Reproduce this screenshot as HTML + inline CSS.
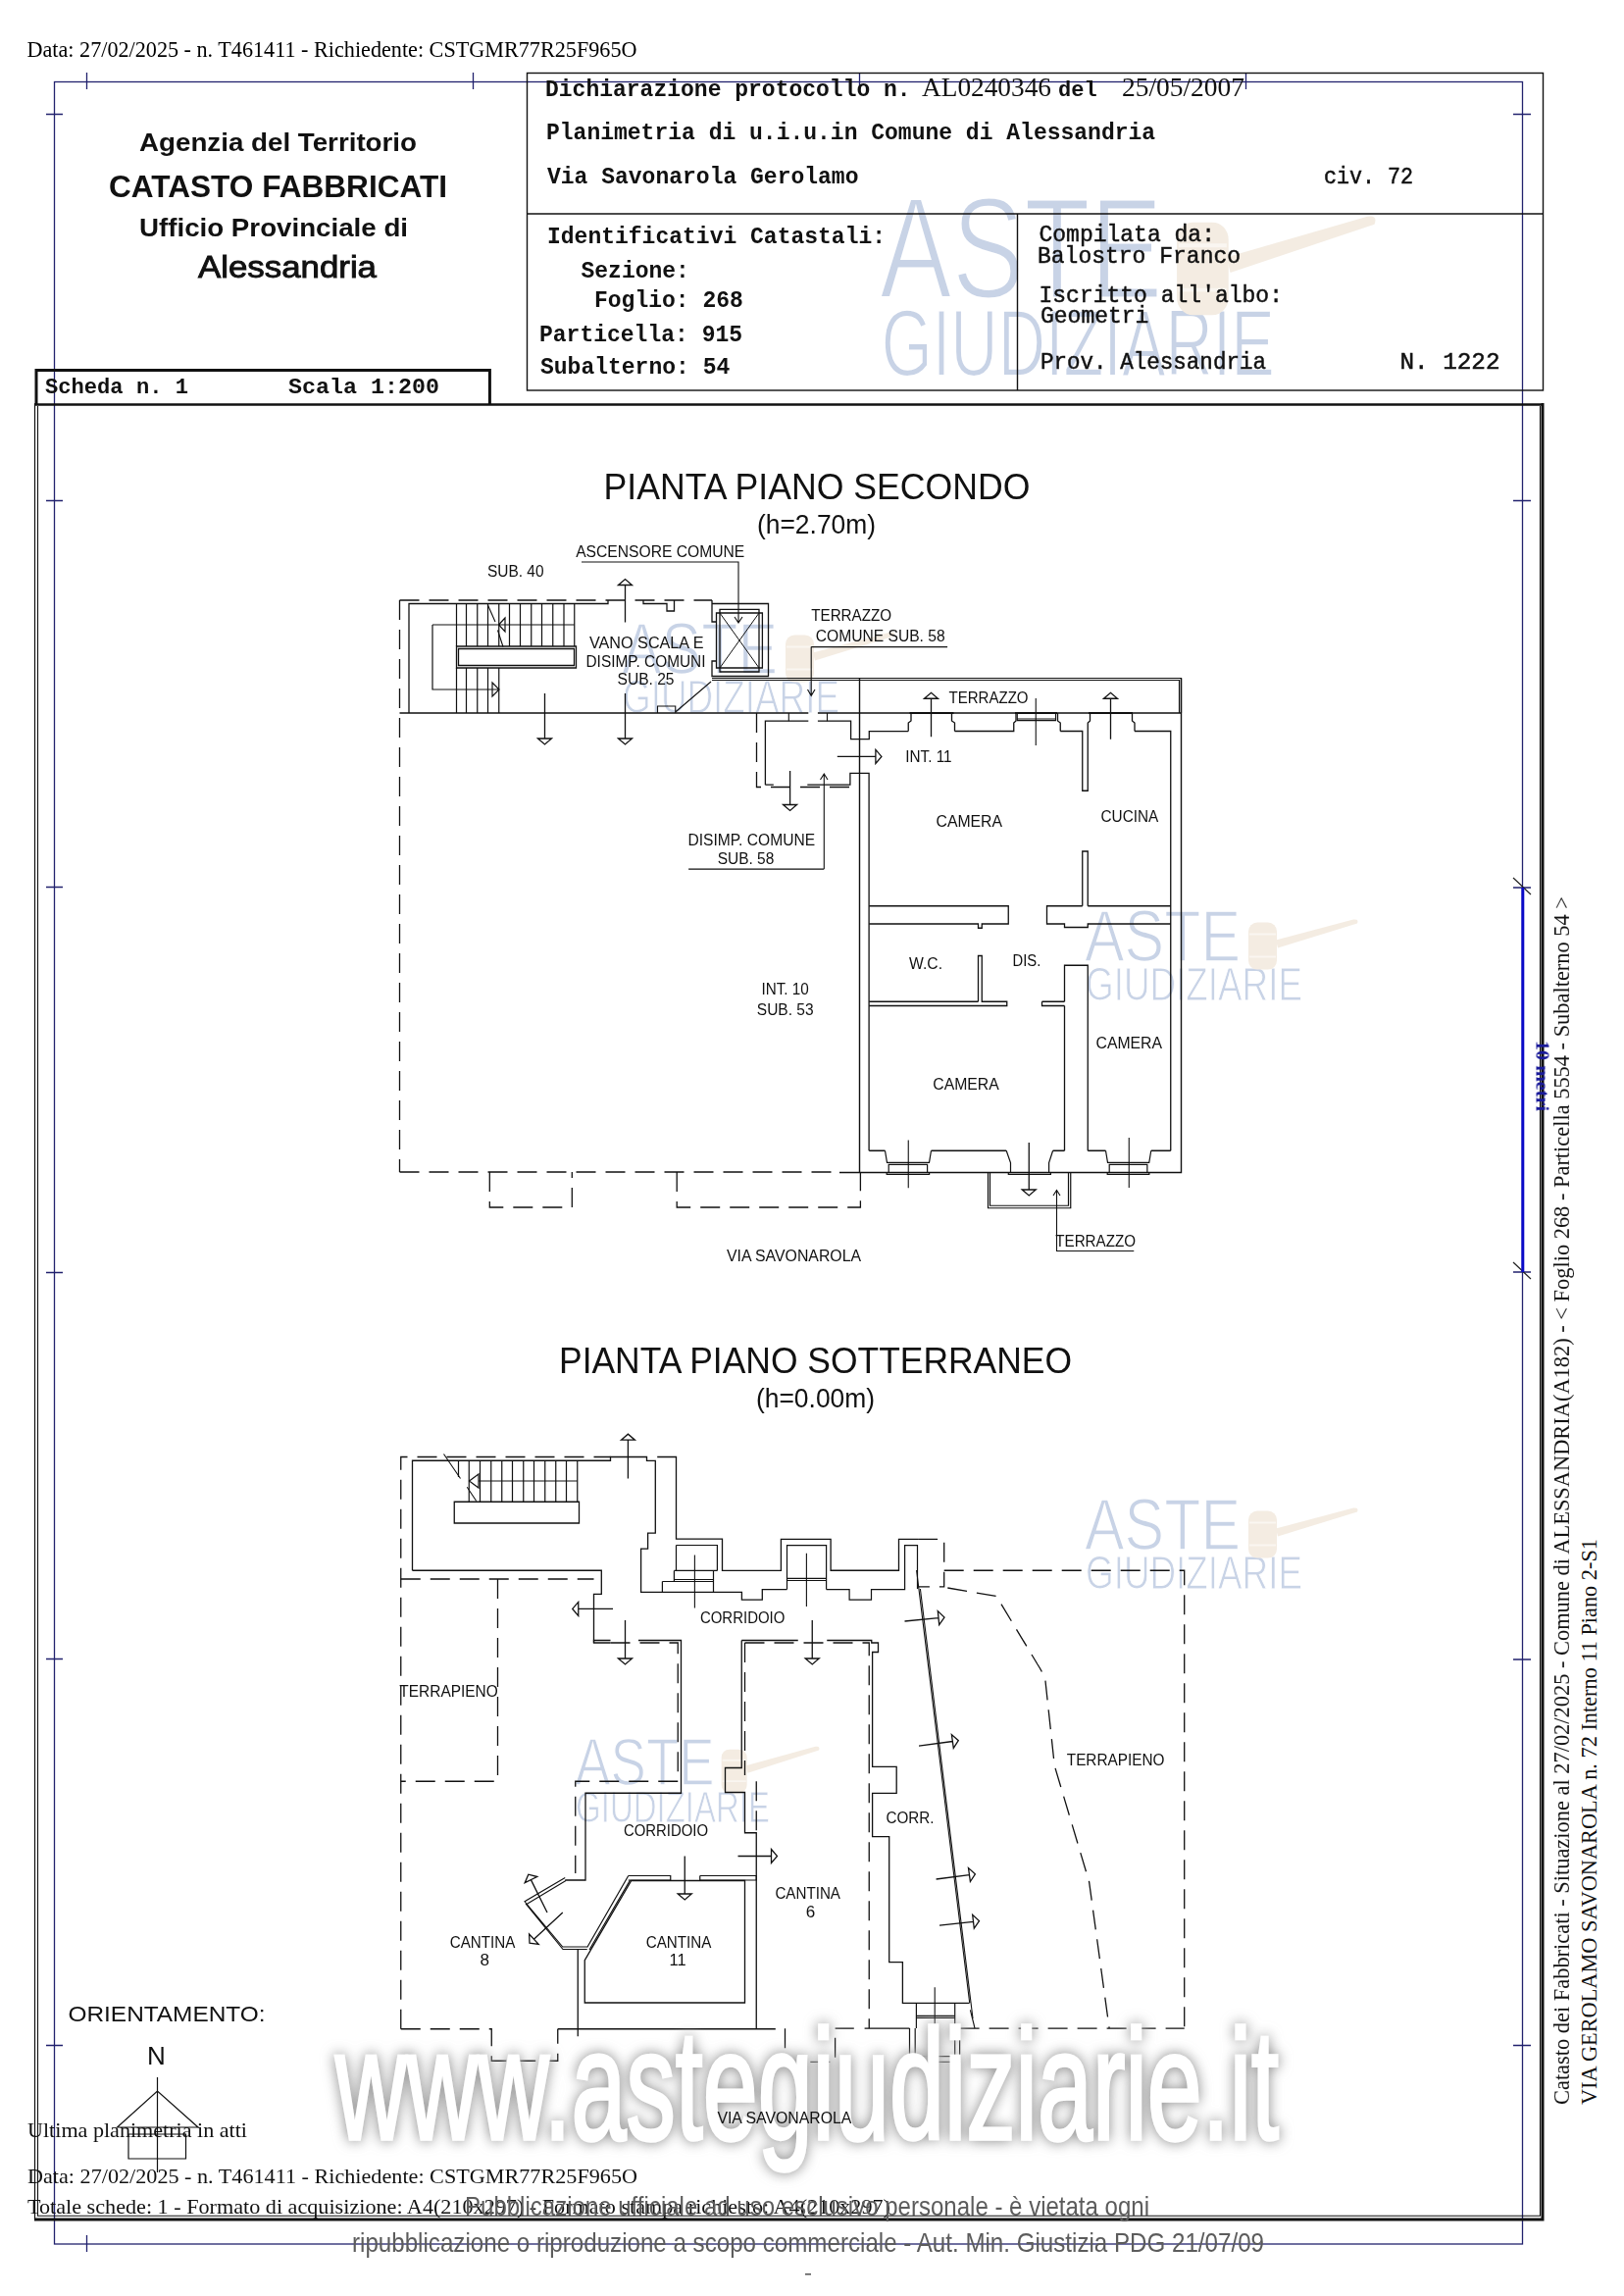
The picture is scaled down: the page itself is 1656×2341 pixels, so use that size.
<!DOCTYPE html>
<html><head><meta charset="utf-8">
<style>
html,body{margin:0;padding:0;background:#fff;}
body{width:1656px;height:2341px;overflow:hidden;position:relative;}
svg{position:absolute;left:0;top:0;}
.sr{font-family:"Liberation Serif",serif;}
.ss{font-family:"Liberation Sans",sans-serif;}
.mo{font-family:"Liberation Mono",monospace;}
</style></head><body>
<svg width="1656" height="2341" viewBox="0 0 1656 2341">
<defs>
<filter id="wm" x="-5%" y="-20%" width="110%" height="140%">
<feGaussianBlur in="SourceAlpha" stdDeviation="7" result="b"/>
<feFlood flood-color="#acacac" result="c"/>
<feComposite in="c" in2="b" operator="in" result="s"/>
<feComponentTransfer in="s" result="s2"><feFuncA type="linear" slope="1.5"/></feComponentTransfer>
<feMerge><feMergeNode in="s2"/><feMergeNode in="SourceGraphic"/></feMerge>
</filter>
<filter id="lb" x="-2%" y="-2%" width="104%" height="104%"><feGaussianBlur stdDeviation="0.7"/></filter>
</defs>
<!--LOGOS-->
<symbol id="logo" overflow="visible">
<g fill="#b6c4de" stroke="#fff" font-family="Liberation Sans,sans-serif">
<text x="-2" y="50.5" font-size="74" stroke-width="1.6" textLength="159" lengthAdjust="spacingAndGlyphs">ASTE</text>
<text x="-1" y="90.5" font-size="48.5" stroke-width="1.0" textLength="221" lengthAdjust="spacingAndGlyphs">GIUDIZIARIE</text>
</g>
<g fill="#f0e6d9">
<rect x="165" y="11" width="29" height="48" rx="9"/>
<path d="M193 29L272 8Q278 7 276 12L195 37Z"/>
</g>
<g fill="none" stroke="#f8f3ec" stroke-width="2"><path d="M166 23H193M166 46H193"/></g>
</symbol>
<g opacity="0.75" filter="url(#lb)"><use href="#logo" transform="translate(1108 929.6) scale(1.0 1.0)"/>
<use href="#logo" transform="translate(1108 1529.6) scale(1.0 1.0)"/>
<use href="#logo" transform="translate(636 636.6) scale(1.0 1.0)"/>
<use href="#logo" transform="translate(588 1773.4) scale(0.895 0.93)"/>
<use href="#logo" transform="translate(900.6 205) scale(1.815 1.97)"/></g>
<!--/LOGOS-->

<!-- ===== top header text ===== -->
<text class="sr" x="27.5" y="58" font-size="23" textLength="622" lengthAdjust="spacingAndGlyphs">Data: 27/02/2025 - n. T461411 - Richiedente: CSTGMR77R25F965O</text>

<!-- ===== blue frame ===== -->
<g stroke="#22226e" stroke-width="1.3" fill="none">
<rect x="55.5" y="83.5" width="1497" height="2204.5"/>
<path d="M88.5 74V91M482.5 74V91M876.5 74V91M1270.5 74V91M88.5 2279V2296
M47 116.5H64M47 510.5H64M47 904.5H64M47 1297.5H64M47 1691.5H64M47 2085.5H64
M1543 116.5H1561M1543 510.5H1561M1543 905H1561M1543 1297H1561M1543 1692H1561M1543 2085.5H1561"/>
</g>
<path d="M1543 895L1561 912M1543 1287L1561 1304" stroke="#222" stroke-width="1.2"/>
<rect x="1551.3" y="905" width="3" height="392" fill="#0a0ac8"/>

<!-- ===== header boxes ===== -->
<g stroke="#111" fill="none">
<rect x="537.5" y="74.5" width="1036" height="323.5" stroke-width="1.4"/>
<path d="M537.5 218H1573.5M1037.5 218V398" stroke-width="1.4"/>
<path d="M37 412.5V377.5H499.4V412.5" stroke-width="3"/>
<path d="M35.5 411.5V2263" stroke-width="1.2"/>
<path d="M35 412.5H1573" stroke-width="2.4"/>
<path d="M1573 411V2264.5M35 2263H1574.5" stroke-width="3"/>
<path d="M38.5 414V2259.3H1570.5V414" stroke-width="1.1"/>
</g>

<!-- header left -->
<g class="ss" font-weight="bold" fill="#111">
<text x="142" y="154" font-size="25" textLength="283" lengthAdjust="spacingAndGlyphs">Agenzia del Territorio</text>
<text x="111" y="201" font-size="31" textLength="345" lengthAdjust="spacingAndGlyphs">CATASTO FABBRICATI</text>
<text x="142" y="240.5" font-size="26" textLength="274" lengthAdjust="spacingAndGlyphs">Ufficio Provinciale di</text>
<text x="202" y="282.5" font-size="31" font-weight="normal" stroke="#111" stroke-width="0.9" textLength="182" lengthAdjust="spacingAndGlyphs">Alessandria</text>
</g>
<g class="mo" font-weight="bold" fill="#111" font-size="23">
<text x="46" y="401" font-size="22" textLength="146" lengthAdjust="spacingAndGlyphs">Scheda n. 1</text>
<text x="294" y="401" font-size="22" textLength="154" lengthAdjust="spacingAndGlyphs">Scala 1:200</text>
<text x="556" y="98">Dichiarazione protocollo n.</text>
<text x="1079" y="98" font-size="22">del</text>
<text x="557" y="142">Planimetria di u.i.u.in Comune di Alessandria</text>
<text x="558" y="187">Via Savonarola Gerolamo</text>
<text x="1350" y="187" font-weight="normal" stroke="#111" stroke-width="0.5" textLength="91" lengthAdjust="spacingAndGlyphs">civ. 72</text>
<text x="558" y="248">Identificativi Catastali:</text>
<text x="592.5" y="282.5">Sezione:</text>
<text x="606" y="313">Foglio: 268</text>
<text x="550" y="347.5">Particella: 915</text>
<text x="551" y="381">Subalterno: 54</text>
<text x="1427.5" y="376" font-weight="normal" stroke="#111" stroke-width="0.5" textLength="102" lengthAdjust="spacingAndGlyphs">N.  1222</text>
</g>
<g class="mo" fill="#111" font-size="23" stroke="#111" stroke-width="0.45">
<text x="1059.5" y="246">Compilata da:</text>
<text x="1058" y="268">Balostro Franco</text>
<text x="1059.5" y="307.5">Iscritto all'albo:</text>
<text x="1061" y="329">Geometri</text>
<text x="1061" y="376" textLength="230" lengthAdjust="spacingAndGlyphs">Prov. Alessandria</text>
</g>
<g class="sr" fill="#111">
<text x="940" y="97.5" font-size="27.5" textLength="132" lengthAdjust="spacingAndGlyphs">AL0240346</text>
<text x="1144" y="97.5" font-size="27.5" textLength="125" lengthAdjust="spacingAndGlyphs">25/05/2007</text>
</g>

<!-- rotated right texts -->
<g class="sr" fill="#111" font-size="22.5">
<text transform="translate(1599.9 2146) rotate(-90)" x="0" y="0" textLength="1232" lengthAdjust="spacingAndGlyphs">Catasto dei Fabbricati - Situazione al 27/02/2025 - Comune di ALESSANDRIA(A182) - &lt; Foglio 268 - Particella  5554 - Subalterno 54 &gt;</text>
<text transform="translate(1628 2146) rotate(-90)" x="0" y="0" textLength="577" lengthAdjust="spacingAndGlyphs">VIA GEROLAMO SAVONAROLA n. 72  Interno 11 Piano 2-S1</text>
</g>
<text class="sr" fill="#1a1a9a" font-weight="bold" font-size="19.5" transform="translate(1566.5 1061) rotate(90)" textLength="72" lengthAdjust="spacingAndGlyphs">10 metri</text>

<!-- footer texts -->
<g class="sr" fill="#111" font-size="22">
<text x="28" y="2179" textLength="224" lengthAdjust="spacingAndGlyphs">Ultima planimetria in atti</text>
<text x="28" y="2226" textLength="622" lengthAdjust="spacingAndGlyphs">Data: 27/02/2025 - n. T461411 - Richiedente: CSTGMR77R25F965O</text>
<text x="28" y="2257" textLength="880" lengthAdjust="spacingAndGlyphs">Totale schede: 1 - Formato di acquisizione: A4(210x297) - Formato stampa richiesto: A4(210x297)</text>
</g>

<!-- orientation -->
<text class="ss" x="69.5" y="2060.5" font-size="22.5" fill="#111" textLength="201" lengthAdjust="spacingAndGlyphs">ORIENTAMENTO:</text>
<text class="ss" x="150" y="2104.5" font-size="26" fill="#111">N</text>
<path d="M160.5 2118V2215M119.5 2169L160.5 2132L202 2169ZM131 2176H189.5V2201H131Z" stroke="#111" stroke-width="1.2" fill="none"/>

<!-- titles -->
<g class="ss" fill="#111">
<text x="615.5" y="509" font-size="37" textLength="435" lengthAdjust="spacingAndGlyphs">PIANTA PIANO SECONDO</text>
<text x="772" y="544" font-size="27" textLength="121" lengthAdjust="spacingAndGlyphs">(h=2.70m)</text>
<text x="570" y="1400" font-size="37" textLength="523" lengthAdjust="spacingAndGlyphs">PIANTA PIANO SOTTERRANEO</text>
<text x="771" y="1435" font-size="27" textLength="121" lengthAdjust="spacingAndGlyphs">(h=0.00m)</text>
</g>

<!--PLAN1-->
<path d="M407.5 612V1195" stroke="#111" stroke-width="1.3" fill="none" stroke-dasharray="20 10"/>
<path d="M407.5 612H726" stroke="#111" stroke-width="1.3" fill="none" stroke-dasharray="20 10"/>
<path d="M417 727V615.5H620V612M656 612V615.5H680V623H687.5V612" stroke="#111" stroke-width="1.3" fill="none"/>
<path d="M726 612V634H730.5M730.5 674H726V689.5H783.5V615.5H726" stroke="#111" stroke-width="1.3" fill="none"/>
<path d="M734 621.4H774V685H734Z" stroke="#111" stroke-width="1.3" fill="none"/>
<path d="M730.5 625H777.4V681H730.5Z" stroke="#111" stroke-width="1.3" fill="none"/>
<path d="M734 625L774 681M774 625L734 681" stroke="#111" stroke-width="1.0" fill="none"/>
<path d="M593 573H753V635M749 629L753 635L757 629" stroke="#111" stroke-width="1.1" fill="none"/>
<path d="M465.5 615.5V659M475.5 615.5V659M486.75 615.5V659M497.5 615.5V659M508.75 615.5V659M519.5 615.5V659M530.5 615.5V659M541.75 615.5V659M552.5 615.5V659M563.75 615.5V659M575 615.5V659M585.75 615.5V659M465.5 681V727M475.5 681V727M486.75 681V727M497.5 681V727M508.75 681V727" stroke="#111" stroke-width="1.2" fill="none"/>
<path d="M465.5 659H587.5V681H465.5ZM467.5 661.5H585.5V678.5H467.5Z" stroke="#111" stroke-width="1.3" fill="none"/>
<path d="M441 637H585.75M441 637V703H509M515 630L508.5 637L515 644ZM502 696L509 703L502 710Z" stroke="#111" stroke-width="1.2" fill="none"/>
<path d="M497.5 617L505 634M507.5 642.5L513 659.5" stroke="#111" stroke-width="1.1" fill="none"/>
<path d="M688.75 726L725 695M670.5 727V720H688.75V727" stroke="#111" stroke-width="1.1" fill="none"/>
<path d="M637.5 634.5V596.5M630.5 596.5L637.5 590.5L644.5 596.5Z" stroke="#111" stroke-width="1.3" fill="none"/>
<path d="M637.5 707V753M630.5 753L637.5 759L644.5 753Z" stroke="#111" stroke-width="1.3" fill="none"/>
<path d="M555.5 707V753M548.5 753L555.5 759L562.5 753Z" stroke="#111" stroke-width="1.3" fill="none"/>
<path d="M726 691.5H1204.5V727M726 693.5H1202.5V727" stroke="#111" stroke-width="1.2" fill="none"/>
<path d="M407.5 727H824.3M833.9 727H1204.5" stroke="#111" stroke-width="1.3" fill="none"/>
<path d="M771.5 727V802.5H876.5" stroke="#111" stroke-width="1.3" fill="none" stroke-dasharray="20 10"/>
<path d="M780.4 800.2V735.2H824.3M833.9 735.2H867.6V753.7H886.3V745.6H926.25" stroke="#111" stroke-width="1.3" fill="none"/>
<path d="M804.3 727V735.2M843.5 727V735.2" stroke="#111" stroke-width="1.1" fill="none"/>
<path d="M780.4 800.2H788.8M823.3 800.2H866.9V788.4H886.1V1173.25" stroke="#111" stroke-width="1.3" fill="none"/>
<path d="M805.6 786V820.5M798.6 820.5L805.6 826.5L812.6 820.5Z" stroke="#111" stroke-width="1.3" fill="none"/>
<path d="M840.3 886.1V789M836.5 795L840.3 789L844 795M702.1 886.1H840.3" stroke="#111" stroke-width="1.1" fill="none"/>
<path d="M853.8 771.4H892.9M892.9 764.4L898.9 771.4L892.9 778.4Z" stroke="#111" stroke-width="1.3" fill="none"/>
<path d="M827.2 659.6H966.1M827.2 659.6V709.4M823.5 703L827.2 709.4L831 703" stroke="#111" stroke-width="1.1" fill="none"/>
<path d="M876.5 691.5V1195.5M856 1195.5H1204.5V691.5" stroke="#111" stroke-width="1.4" fill="none"/>
<path d="M926.25 745.5V737L929 735V727M973.5 745.5V737L970.5 735V727M973.5 745.5H1033.75V737L1036 735V727M1081.25 745.5V737L1078.5 735V727M1081.25 745.5H1103.75V806.25H1109.25V745.5V737L1111.5 735V727M1157 745.5V737L1154.5 735V727M1157 745.5H1193.75V1173.25" stroke="#111" stroke-width="1.3" fill="none"/>
<path d="M927.5 727H972.5M1035 727H1078M1110 727H1155" stroke="#111" stroke-width="2.2" fill="none"/>
<path d="M1037.3 727V734.6H1076.5V727M1037.3 733H1076.5" stroke="#111" stroke-width="1.1" fill="none"/>
<path d="M1056.25 712V760" stroke="#111" stroke-width="1.1" fill="none"/>
<path d="M949.5 751.25V712.25M942.5 712.25L949.5 706.25L956.5 712.25Z" stroke="#111" stroke-width="1.3" fill="none"/>
<path d="M1132.5 753.75V712.25M1125.5 712.25L1132.5 706.25L1139.5 712.25Z" stroke="#111" stroke-width="1.3" fill="none"/>
<path d="M1103.75 923.75V868H1109.25V923.75" stroke="#111" stroke-width="1.3" fill="none"/>
<path d="M886.25 923.75H1028.25V942H1001.25V946.25H997.5V942H886.25" stroke="#111" stroke-width="1.3" fill="none"/>
<path d="M1103.75 923.75H1067.5V942H1085.5V945.5H1109.25V942H1193.75M1109.25 923.75H1193.75" stroke="#111" stroke-width="1.3" fill="none"/>
<path d="M997.5 1021.25V974.5H1001.25V1021.25H1026.75V1025.5H886.25" stroke="#111" stroke-width="1.3" fill="none"/>
<path d="M886.25 1021.25H997.5" stroke="#111" stroke-width="1.3" fill="none"/>
<path d="M1062.5 1021.25H1085.5M1062.5 1021.25V1025.5H1085.5" stroke="#111" stroke-width="1.3" fill="none"/>
<path d="M1085.5 1021.25V984.25H1109.25V1173.25M1085.5 1025.5V1173.25" stroke="#111" stroke-width="1.3" fill="none"/>
<path d="M902.5 1173.25L904.5 1185.4H947.5L949.5 1173.25M906.2 1195.5V1187.3H945.6V1195.5M904.2 1195.5V1197.4H947.6V1195.5" stroke="#111" stroke-width="1.2" fill="none"/>
<path d="M1127.5 1173.25L1129.5 1185.4H1171.75L1173.75 1173.25M1131.2 1195.5V1187.3H1169.85V1195.5M1129.2 1195.5V1197.4H1171.85V1195.5" stroke="#111" stroke-width="1.2" fill="none"/>
<path d="M886.25 1173.25H902.5M949.5 1173.25H1026.2M1073.6 1173.25H1085.5M1109.25 1173.25H1127.5M1173.75 1173.25H1193.75" stroke="#111" stroke-width="1.3" fill="none"/>
<path d="M1026.2 1173.25L1030.5 1185.5V1195.5M1073.6 1173.25L1069.6 1185.5V1195.5M1028.3 1195.5V1197.4H1071.4V1195.5" stroke="#111" stroke-width="1.2" fill="none"/>
<path d="M926.25 1162.5V1211.25M1151.25 1160V1211" stroke="#111" stroke-width="1.1" fill="none"/>
<path d="M1049.25 1165V1213M1042.25 1213L1049.25 1219L1056.25 1213Z" stroke="#111" stroke-width="1.3" fill="none"/>
<path d="M1007.5 1195.5V1231.75H1091.75V1195.5M1009.5 1195.5V1229.25H1089.5V1195.5" stroke="#111" stroke-width="1.2" fill="none"/>
<path d="M1077.5 1213.75V1275.5H1156.25M1074 1219L1077.5 1213.5L1081 1219" stroke="#111" stroke-width="1.1" fill="none"/>
<path d="M407.5 1195H856" stroke="#111" stroke-width="1.3" fill="none" stroke-dasharray="20 10"/>
<path d="M499.3 1195V1231H583.3V1195M690.2 1195V1231H877.4V1195" stroke="#111" stroke-width="1.3" fill="none" stroke-dasharray="20 10"/>
<g class="ss" fill="#111">
<text x="587.2" y="568" font-size="16" textLength="172" lengthAdjust="spacingAndGlyphs">ASCENSORE COMUNE</text>
<text x="497" y="587.5" font-size="16" textLength="57.5" lengthAdjust="spacingAndGlyphs">SUB. 40</text>
<text x="601" y="661" font-size="16" textLength="116.5" lengthAdjust="spacingAndGlyphs">VANO SCALA E</text>
<text x="597.5" y="680" font-size="16" textLength="122" lengthAdjust="spacingAndGlyphs">DISIMP. COMUNI</text>
<text x="629.5" y="698" font-size="16" textLength="58" lengthAdjust="spacingAndGlyphs">SUB. 25</text>
<text x="827.2" y="632.5" font-size="16" textLength="82" lengthAdjust="spacingAndGlyphs">TERRAZZO</text>
<text x="831.7" y="654.4" font-size="16" textLength="132" lengthAdjust="spacingAndGlyphs">COMUNE SUB. 58</text>
<text x="967.5" y="717" font-size="16" textLength="81" lengthAdjust="spacingAndGlyphs">TERRAZZO</text>
<text x="923.3" y="777.4" font-size="16" textLength="47.3" lengthAdjust="spacingAndGlyphs">INT. 11</text>
<text x="954.5" y="842.5" font-size="16" textLength="67.5" lengthAdjust="spacingAndGlyphs">CAMERA</text>
<text x="1122.5" y="837.5" font-size="16" textLength="58.75" lengthAdjust="spacingAndGlyphs">CUCINA</text>
<text x="701.4" y="861.7" font-size="16" textLength="129.7" lengthAdjust="spacingAndGlyphs">DISIMP. COMUNE</text>
<text x="731.7" y="880.5" font-size="16" textLength="57.6" lengthAdjust="spacingAndGlyphs">SUB. 58</text>
<text x="927" y="988.25" font-size="16" textLength="34" lengthAdjust="spacingAndGlyphs">W.C.</text>
<text x="1032.5" y="985" font-size="16" textLength="28.75" lengthAdjust="spacingAndGlyphs">DIS.</text>
<text x="776.4" y="1013.9" font-size="16" textLength="48.3" lengthAdjust="spacingAndGlyphs">INT. 10</text>
<text x="771.8" y="1035.4" font-size="16" textLength="57.8" lengthAdjust="spacingAndGlyphs">SUB. 53</text>
<text x="1117.5" y="1068.75" font-size="16" textLength="67.5" lengthAdjust="spacingAndGlyphs">CAMERA</text>
<text x="951.25" y="1110.75" font-size="16" textLength="67.5" lengthAdjust="spacingAndGlyphs">CAMERA</text>
<text x="1076.25" y="1270.75" font-size="16" textLength="81.75" lengthAdjust="spacingAndGlyphs">TERRAZZO</text>
<text x="741" y="1285.7" font-size="16" textLength="137" lengthAdjust="spacingAndGlyphs">VIA SAVONAROLA</text>
</g>
<!--/PLAN1-->

<!--PLAN2-->
<path d="M408.75 2068.75V1485.5H622.5" stroke="#111" stroke-width="1.3" fill="none" stroke-dasharray="20 10"/>
<path d="M420.5 1601.25V1489.25H622.5V1485.5H659.5V1489.3H668.3V1563.2H660.6V1579.2H653.6V1623.4H756.4V1631.2H777.3V1620.6H802.5" stroke="#111" stroke-width="1.3" fill="none"/>
<path d="M420.5 1601.25H613.3V1625.3H605.5V1675H622.5" stroke="#111" stroke-width="1.3" fill="none"/>
<path d="M670.2 1485.5H689.5V1569.2H736.5V1601.4H796.4V1569.3H847.1V1601.25H916.5V1569.3H936.1" stroke="#111" stroke-width="1.3" fill="none"/>
<path d="M936.1 1569.3H962.7V1617.9H936.1" stroke="#111" stroke-width="1.3" fill="none" stroke-dasharray="20 10"/>
<path d="M962.7 1601.25H1207.7V2068.2" stroke="#111" stroke-width="1.3" fill="none" stroke-dasharray="20 10"/>
<path d="M689.5 1575.5H731.4V1601.4M689.5 1575.5V1601.4M687.4 1601.4H731.4M687.4 1601.4V1612.5M687.4 1610.5H727.5M675.4 1612.5H727.5M727.5 1601.4V1623.4M675.4 1612.5V1623.4" stroke="#111" stroke-width="1.2" fill="none"/>
<path d="M708.4 1585.4V1639.6" stroke="#111" stroke-width="1.1" fill="none"/>
<path d="M802.5 1620.6V1575.6H842.6V1620.6M802.5 1609.4H842.6M802.5 1611.5H842.6" stroke="#111" stroke-width="1.2" fill="none"/>
<path d="M822.4 1583.8V1638" stroke="#111" stroke-width="1.1" fill="none"/>
<path d="M842.6 1620.6H866.1V1631.1H888.5V1620.6H922.6V1575.6H935.5V1620" stroke="#111" stroke-width="1.2" fill="none"/>
<path d="M463.25 1531.25H590.5V1553H463.25Z" stroke="#111" stroke-width="1.3" fill="none"/>
<path d="M467.5 1489.25V1506M478.25 1489.25V1531.25M489.5 1489.25V1531.25M500.75 1489.25V1531.25M511.75 1489.25V1531.25M522.5 1489.25V1531.25M533.75 1489.25V1531.25M544.5 1489.25V1531.25M555.75 1489.25V1531.25M566.75 1489.25V1531.25M577.5 1489.25V1531.25M588.75 1489.25V1531.25" stroke="#111" stroke-width="1.2" fill="none"/>
<path d="M488 1510H588.75M488 1503L478.5 1510L488 1517Z" stroke="#111" stroke-width="1.2" fill="none"/>
<path d="M452.5 1482.5L469.5 1507.5M476.25 1516.25L485.75 1530.5" stroke="#111" stroke-width="1.1" fill="none"/>
<path d="M640.4 1507.4V1468.2M633.4 1468.2L640.4 1462.2L647.4 1468.2Z" stroke="#111" stroke-width="1.3" fill="none"/>
<path d="M625 1640.4H589.75M589.75 1633.4L583.75 1640.4L589.75 1647.4Z" stroke="#111" stroke-width="1.3" fill="none"/>
<path d="M637.5 1652V1691M630.5 1691L637.5 1697L644.5 1691Z" stroke="#111" stroke-width="1.3" fill="none"/>
<path d="M828.25 1652V1691M821.25 1691L828.25 1697L835.25 1691Z" stroke="#111" stroke-width="1.3" fill="none"/>
<path d="M408.75 1610H605.5M507.5 1610V1816.25H408.75" stroke="#111" stroke-width="1.3" fill="none" stroke-dasharray="20 10"/>
<path d="M605.5 1675V1672.5H622.5M651 1672.5H694.5V1828.25H597V1917H576.25" stroke="#111" stroke-width="1.3" fill="none"/>
<path d="M622.5 1675H691.25V1816.25H586.75V1910" stroke="#111" stroke-width="1.3" fill="none" stroke-dasharray="20 10"/>
<path d="M756.25 1672.5H813.75M843.25 1672.5H888.75V1675H895.5V1684.5H889.6V1801.4H914.2V1828.3H889.6V1872.7H906.7V2000.7H920.4V2042.3H988.6" stroke="#111" stroke-width="1.3" fill="none"/>
<path d="M756.25 1672.5V1802.5H739.5V1827.5H759.5V1868.75H771.25V2068.75" stroke="#111" stroke-width="1.3" fill="none"/>
<path d="M759.5 1675H886.25V2068" stroke="#111" stroke-width="1.3" fill="none" stroke-dasharray="20 10"/>
<path d="M759.5 1675V1810M771.25 1816.25V1868.75" stroke="#111" stroke-width="1.3" fill="none" stroke-dasharray="20 10"/>
<path d="M934.6 1601L988.7 2042M938.4 1620L992 2058" stroke="#111" stroke-width="1.1" fill="none"/>
<path d="M989.4 2049.3L994 2068" stroke="#111" stroke-width="1.1" fill="none"/>
<path d="M934.4 2042.3V2068M973.7 2042.3V2068M934.4 2055.4H973.7M934.4 2057.3H973.7" stroke="#111" stroke-width="1.2" fill="none"/>
<path d="M927.5 2068V2102.4H978.6V2068M933.2 2068V2096.7H973.7V2068" stroke="#111" stroke-width="1.2" fill="none"/>
<path d="M953.2 2026.2V2084.7" stroke="#111" stroke-width="1.1" fill="none"/>
<path d="M922.5 1653.0L957.0 1649.6M957.7 1656.6L963.0 1649.0L956.3 1642.6Z" stroke="#111" stroke-width="1.3" fill="none"/>
<path d="M937.0 1780.2L971.4 1775.5M972.3 1782.4L977.3 1774.7L970.4 1768.6Z" stroke="#111" stroke-width="1.3" fill="none"/>
<path d="M954.6 1916.0L988.5 1911.6M989.4 1918.5L994.4 1910.8L987.5 1904.6Z" stroke="#111" stroke-width="1.3" fill="none"/>
<path d="M958.0 1963.2L992.5 1959.3M993.3 1966.2L998.5 1958.6L991.7 1952.3Z" stroke="#111" stroke-width="1.3" fill="none"/>
<path d="M966.3 1619L1016.1 1627.5L1058 1697Q1065 1708 1066 1714L1075.3 1800.3L1110.6 1918.7L1131.1 2068" stroke="#111" stroke-width="1.3" fill="none" stroke-dasharray="20 10"/>
<path d="M408.75 2068.75H501.25V2101.25H568.75V2068.75" stroke="#111" stroke-width="1.3" fill="none" stroke-dasharray="20 10"/>
<path d="M568.75 2068.75H790.8M851.6 2068.2H870.8M881.6 2068.2H927.5" stroke="#111" stroke-width="1.3" fill="none"/>
<path d="M978.6 2068.2H1207.7" stroke="#111" stroke-width="1.3" fill="none" stroke-dasharray="20 10"/>
<path d="M800.5 2068.2V2102.4H851.6V2068.2" stroke="#111" stroke-width="1.3" fill="none" stroke-dasharray="20 10"/>
<path d="M576.25 1914.5L535 1938.75L573.75 1985H598.75M577 1917.5L537 1941.5M536 1941L574 1987.5H598.75" stroke="#111" stroke-width="1.1" fill="none"/>
<path d="M558.0 1950.0L541.4 1916.6M547.7 1913.5L538.8 1911.2L535.2 1919.7Z" stroke="#111" stroke-width="1.3" fill="none"/>
<path d="M573.8 1950.0L544.4 1977.2M539.6 1972.0L540.0 1981.2L549.2 1982.3Z" stroke="#111" stroke-width="1.3" fill="none"/>
<path d="M589.25 1987V2076.25" stroke="#111" stroke-width="1.3" fill="none"/>
<path d="M640.75 1912.5H683.75V1917H640.75M713.75 1912.5H771.25M713.75 1917H771.25V1912.5M713.75 1912.5V1917M683.75 1912.5V1917" stroke="#111" stroke-width="1.2" fill="none"/>
<path d="M640.75 1912.5L598.75 1985.5M642.5 1917L601 1988" stroke="#111" stroke-width="1.2" fill="none"/>
<path d="M643.75 1917.5H759.5V2042H596.25V1998.75Z" stroke="#111" stroke-width="1.3" fill="none"/>
<path d="M698.25 1892.5V1931M691.25 1931L698.25 1937L705.25 1931Z" stroke="#111" stroke-width="1.3" fill="none"/>
<path d="M752.5 1892.5H786.5M786.5 1885.5L792.5 1892.5L786.5 1899.5Z" stroke="#111" stroke-width="1.3" fill="none"/>
<g class="ss" fill="#111">
<text x="713.9" y="1654.5" font-size="16" textLength="86.5" lengthAdjust="spacingAndGlyphs">CORRIDOIO</text>
<text x="407.3" y="1729.7" font-size="16" textLength="100.5" lengthAdjust="spacingAndGlyphs">TERRAPIENO</text>
<text x="1087.8" y="1799.8" font-size="16" textLength="99.6" lengthAdjust="spacingAndGlyphs">TERRAPIENO</text>
<text x="903.5" y="1858.8" font-size="16" textLength="49" lengthAdjust="spacingAndGlyphs">CORR.</text>
<text x="636" y="1871.5" font-size="16" textLength="86" lengthAdjust="spacingAndGlyphs">CORRIDOIO</text>
<text x="790.4" y="1935.8" font-size="16" textLength="66.6" lengthAdjust="spacingAndGlyphs">CANTINA</text>
<text x="821.8" y="1955.2" font-size="16" textLength="9.5" lengthAdjust="spacingAndGlyphs">6</text>
<text x="458.75" y="1986.4" font-size="16" textLength="66.6" lengthAdjust="spacingAndGlyphs">CANTINA</text>
<text x="489.5" y="2004" font-size="16" textLength="9.5" lengthAdjust="spacingAndGlyphs">8</text>
<text x="658.75" y="1986.4" font-size="16" textLength="66.6" lengthAdjust="spacingAndGlyphs">CANTINA</text>
<text x="682.5" y="2004" font-size="16" textLength="17" lengthAdjust="spacingAndGlyphs">11</text>
</g>
<!--/PLAN2-->

<!--WATERMARKS-->
<text x="342" y="2181" font-family="Liberation Sans,sans-serif" font-size="160" fill="#fff" stroke="#fff" stroke-width="3.5" filter="url(#wm)" textLength="962" lengthAdjust="spacingAndGlyphs">www.astegiudiziarie.it</text>
<text class="ss" x="731.4" y="2164.5" font-size="16" fill="#111" textLength="137" lengthAdjust="spacingAndGlyphs">VIA SAVONAROLA</text>
<g fill="#5c5c5c" font-family="Liberation Sans,sans-serif">
<text x="474" y="2259" font-size="28" textLength="698" lengthAdjust="spacingAndGlyphs">Pubblicazione ufficiale ad uso esclusivo personale - è vietata ogni</text>
<text x="359" y="2296" font-size="28" textLength="930" lengthAdjust="spacingAndGlyphs">ripubblicazione o riproduzione a scopo commerciale - Aut. Min. Giustizia PDG 21/07/09</text>
<rect x="821" y="2318" width="6" height="1.6"/>
</g>
<!--/WATERMARKS-->

</svg>
</body></html>
